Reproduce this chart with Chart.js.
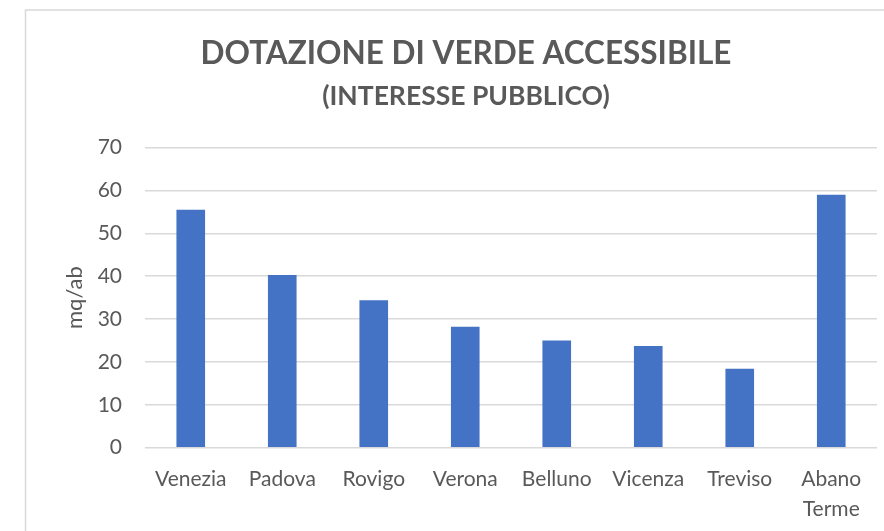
<!DOCTYPE html>
<html>
<head>
<meta charset="utf-8">
<script src="https://cdn.jsdelivr.net/npm/chart.js@4"></script>
<style>
  body { margin: 0; background: #fff; }
  canvas { display: block; }
</style>
</head>
<body>
<canvas id="verde-chart" width="884" height="531"></canvas>
<script>
// dati
const cities = ['Venezia', 'Padova', 'Rovigo', 'Verona', 'Belluno', 'Vicenza', 'Treviso', ['Abano', 'Terme']];
const verdeMq = [55.5, 40.3, 34.4, 28.2, 25.0, 23.7, 18.4, 59.0];
const yTicks = [0, 10, 20, 30, 40, 50, 60, 70];

const grey = '#595959';
const fontFam = "Lato, 'Open Sans', sans-serif";

// cornice grigia attorno al grafico
const framePlugin = {
  id: 'frame',
  beforeDraw(chart) {
    const ctx = chart.ctx;
    ctx.save();
    ctx.strokeStyle = '#d9d9d9';
    ctx.lineWidth = 1.5;
    ctx.strokeRect(25.5, 10, 1000, 1000);
    ctx.restore();
  }
};

new Chart(document.getElementById('verde-chart'), {
  type: 'bar',
  data: {
    labels: cities,
    datasets: [{
      data: verdeMq,
      backgroundColor: '#4472C4',
      barPercentage: 1,
      categoryPercentage: 0.313
    }]
  },
  options: {
    responsive: false,
    animation: false,
    layout: { padding: { left: 55, right: 7, top: 0, bottom: 0 } },
    plugins: {
      legend: { display: false },
      tooltip: { enabled: false },
      title: {
        display: true,
        text: 'DOTAZIONE DI VERDE ACCESSIBILE',
        color: grey,
        font: { family: fontFam, size: 31.5, weight: 'bold', lineHeight: 1.2 },
        padding: { top: 35, bottom: 8 }
      },
      subtitle: {
        display: true,
        text: '(INTERESSE PUBBLICO)',
        color: grey,
        font: { family: fontFam, size: 26.5, weight: 'bold', lineHeight: 1.2 },
        padding: { top: 0, bottom: 35 }
      }
    },
    scales: {
      x: {
        grid: { display: false, drawTicks: false },
        border: { display: false },
        ticks: {
          color: grey,
          font: { family: fontFam, size: 21, lineHeight: 1.4 },
          padding: 17,
          maxRotation: 0,
          autoSkip: false
        },
        afterFit(scale) { scale.height = 83.3; }
      },
      y: {
        min: 0,
        max: 70,
        afterBuildTicks(scale) { scale.ticks = yTicks.map(v => ({ value: v })); },
        grid: { color: '#d9d9d9', lineWidth: 1.5, drawTicks: false },
        border: { display: false },
        ticks: {
          color: grey,
          font: { family: fontFam, size: 21 },
          padding: 23
        },
        title: {
          display: true,
          text: 'mq/ab',
          color: grey,
          font: { family: fontFam, size: 22 },
          padding: { top: 7, bottom: 0 }
        },
        afterFit(scale) { scale.width = 90; }
      }
    }
  },
  plugins: [framePlugin]
});
</script>
</body>
</html>
